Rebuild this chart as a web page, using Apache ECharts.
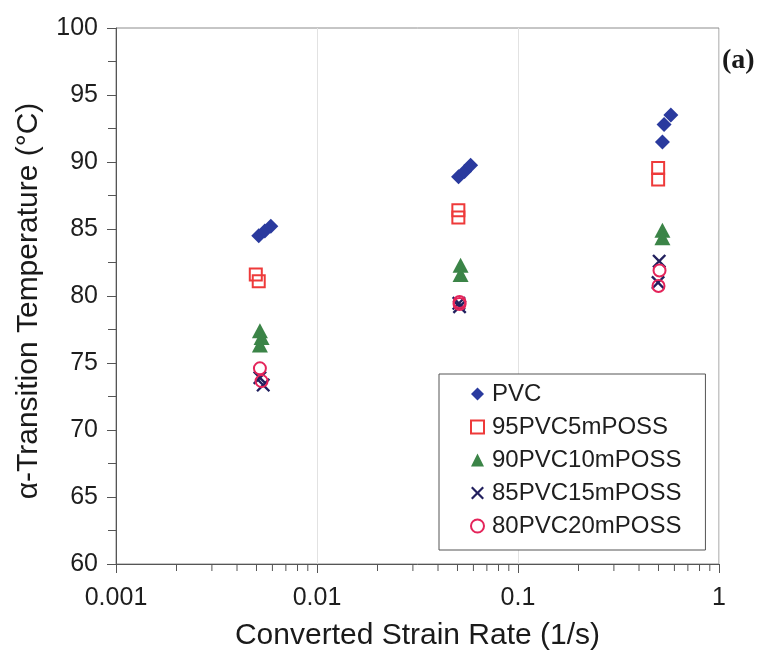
<!DOCTYPE html>
<html>
<head>
<meta charset="utf-8">
<title>alpha-transition temperature vs strain rate</title>
<script src="https://cdn.jsdelivr.net/npm/echarts@6/dist/echarts.min.js"></script>
<style>
  html, body { margin: 0; padding: 0; background: #ffffff; }
  #chart { width: 767px; height: 662px; }
</style>
</head>
<body>
<div id="chart"></div>
<script>
// Converted strain rate (1/s) and alpha-transition temperature (°C) per material
const pvcX    = [0.00513, 0.0055, 0.00589, 0.0506, 0.0542, 0.0581, 0.523, 0.533, 0.576];
const pvcY    = [84.5, 84.85, 85.2, 88.9, 89.3, 89.75, 91.5, 92.8, 93.5];

const poss5X  = [0.00496, 0.00513, 0.0505, 0.0505, 0.498, 0.498];
const poss5Y  = [81.6, 81.1, 86.4, 85.85, 89.55, 88.7];

const poss10X = [0.0052, 0.0053, 0.0052, 0.0518, 0.0518, 0.523, 0.523];
const poss10Y = [77.4, 76.9, 76.35, 82.3, 81.6, 84.9, 84.35];

const poss15X = [0.0052, 0.0054, 0.0508, 0.0512, 0.504, 0.4975];
const poss15Y = [73.9, 73.35, 79.45, 79.2, 82.6, 81.0];

const poss20X = [0.0052, 0.0053, 0.0512, 0.0512, 0.506, 0.5];
const poss20Y = [74.6, 73.65, 79.55, 79.4, 81.9, 80.75];

const seriesNames = ['PVC', '95PVC5mPOSS', '90PVC10mPOSS', '85PVC15mPOSS', '80PVC20mPOSS'];

// Axis ranges and tick positions
const xMin = 0.001, xMax = 1;
const yMin = 60, yMax = 100, yStep = 5;
const xMinorTicks = [
  0.002, 0.003, 0.004, 0.005, 0.006, 0.007, 0.008, 0.009,
  0.02, 0.03, 0.04, 0.05, 0.06, 0.07, 0.08, 0.09,
  0.2, 0.3, 0.4, 0.5, 0.6, 0.7, 0.8, 0.9
];

const pairs = (xs, ys) => xs.map((x, i) => [x, ys[i]]);

const CROSS = 'path://M1.2,0 L5,3.8 L8.8,0 L10,1.2 L6.2,5 L10,8.8 L8.8,10 L5,6.2 L1.2,10 L0,8.8 L3.8,5 L0,1.2 Z';

const FONT = '"Liberation Sans", Arial, sans-serif';

const chart = echarts.init(document.getElementById('chart'), null, { renderer: 'canvas' });

chart.setOption({
  backgroundColor: '#ffffff',
  animation: false,
  grid: {
    left: 116, right: 48, top: 28, bottom: 98,
    show: true, borderColor: '#8c8c8c', borderWidth: 1
  },
  xAxis: {
    type: 'log',
    logBase: 10,
    min: xMin,
    max: xMax,
    name: 'Converted Strain Rate (1/s)',
    nameLocation: 'middle',
    nameGap: 57,
    nameTextStyle: { fontFamily: FONT, fontSize: 30, color: '#1a1a1a' },
    axisLine: { lineStyle: { color: '#555555', width: 1 } },
    axisTick: { inside: false, length: 9, lineStyle: { color: '#555555' } },
    axisLabel: {
      fontFamily: FONT, fontSize: 25, color: '#1e1e1e', margin: 22,
      formatter: v => String(+v.toPrecision(6))
    },
    splitLine: { show: true, lineStyle: { color: '#e2e2e2', width: 1 } }
  },
  yAxis: {
    type: 'value',
    min: yMin,
    max: yMax,
    interval: yStep,
    name: 'α-Transition Temperature (°C)',
    nameLocation: 'middle',
    nameGap: 72,
    nameTextStyle: { fontFamily: FONT, fontSize: 30, color: '#1a1a1a', padding: [0, 10, 0, 0] },
    axisLine: { show: true, lineStyle: { color: '#555555', width: 1 } },
    axisTick: { show: true, inside: false, length: 9, lineStyle: { color: '#555555' } },
    minorTick: { show: true, splitNumber: 2, length: 8, lineStyle: { color: '#555555' } },
    axisLabel: { fontFamily: FONT, fontSize: 25, color: '#1e1e1e', margin: 18 },
    splitLine: { show: false }
  },
  legend: {
    data: seriesNames,
    orient: 'vertical',
    left: 439,
    top: 374,
    padding: [8, 24, 12, 31],
    itemGap: 9,
    itemWidth: 13,
    itemHeight: 13,
    backgroundColor: '#ffffff',
    borderColor: '#555555',
    borderWidth: 1,
    borderRadius: 0,
    textStyle: { fontFamily: FONT, fontSize: 24, color: '#1e1e1e', padding: [0, 0, 0, 3] }
  },
  graphic: [{
    type: 'text',
    left: 722,
    top: 47,
    style: {
      text: '(a)',
      font: 'bold 28px "Liberation Serif", "Times New Roman", serif',
      fill: '#1a1a1a'
    }
  }],
  series: [
    {
      // minor decade ticks under the log axis (2..9 within each decade)
      type: 'custom',
      silent: true,
      clip: false,
      data: xMinorTicks.map(v => [v, yMin]),
      renderItem: (params, api) => {
        const p = api.coord([api.value(0), api.value(1)]);
        return {
          type: 'line',
          shape: { x1: p[0], y1: p[1], x2: p[0], y2: p[1] + 7 },
          style: { stroke: '#555555', lineWidth: 1 }
        };
      },
      z: 1
    },
    {
      name: seriesNames[0],
      type: 'scatter',
      symbol: 'diamond',
      symbolSize: 15,
      itemStyle: { color: '#2a3a9e', opacity: 1 },
      data: pairs(pvcX, pvcY),
      z: 3
    },
    {
      name: seriesNames[1],
      type: 'scatter',
      symbol: 'rect',
      symbolSize: 12,
      itemStyle: { color: 'rgba(255,255,255,0)', borderColor: '#ee3a3a', borderWidth: 2, opacity: 1 },
      data: pairs(poss5X, poss5Y),
      z: 3
    },
    {
      name: seriesNames[2],
      type: 'scatter',
      symbol: 'triangle',
      symbolSize: [16, 15],
      itemStyle: { color: '#3b8447', opacity: 1 },
      data: pairs(poss10X, poss10Y),
      z: 3
    },
    {
      name: seriesNames[3],
      type: 'scatter',
      symbol: CROSS,
      symbolSize: 14,
      itemStyle: { color: '#22205e', opacity: 1 },
      data: pairs(poss15X, poss15Y),
      z: 4
    },
    {
      name: seriesNames[4],
      type: 'scatter',
      symbol: 'circle',
      symbolSize: 12,
      itemStyle: { color: 'rgba(255,255,255,0)', borderColor: '#e4245a', borderWidth: 2, opacity: 1 },
      data: pairs(poss20X, poss20Y),
      z: 5
    }
  ]
});
</script>
</body>
</html>
